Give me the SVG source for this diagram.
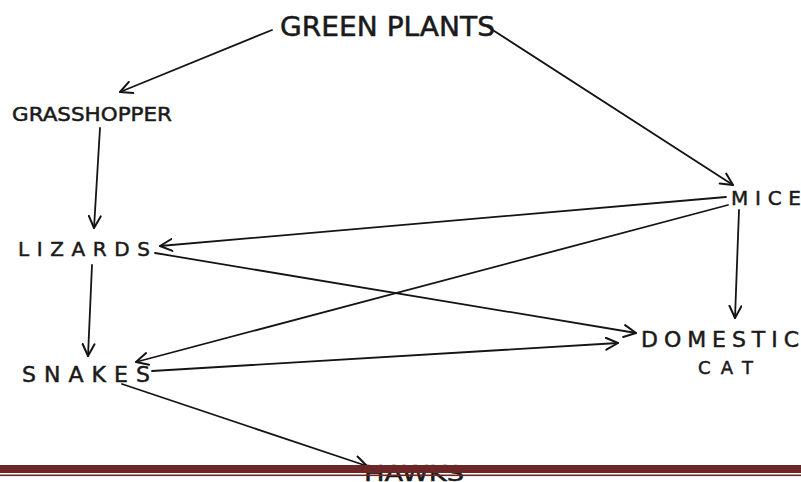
<svg xmlns="http://www.w3.org/2000/svg" width="801" height="482" viewBox="0 0 801 482">
<style>
.t{font-family:"DejaVu Sans","Liberation Sans",sans-serif;fill:#1a1a1a;stroke:#1a1a1a;stroke-width:0.5;}
.e{stroke:#141414;stroke-width:1.8;fill:none;stroke-linecap:round;}
</style>
<defs>
<marker id="ah" viewBox="0 0 14 14" refX="13" refY="7" markerWidth="14" markerHeight="14" markerUnits="userSpaceOnUse" orient="auto">
<path d="M1,1 L13,7 L1,13" fill="none" stroke="#141414" stroke-width="2" stroke-linecap="round" stroke-linejoin="round"/>
</marker>
</defs>
<rect width="801" height="482" fill="#ffffff"/>
<g id="connectors">
<line class="e" x1="272" y1="30" x2="120" y2="92" marker-end="url(#ah)"/>
<line class="e" x1="488" y1="27" x2="733" y2="185" marker-end="url(#ah)"/>
<line class="e" x1="100" y1="128" x2="94" y2="228" marker-end="url(#ah)"/>
<line class="e" x1="726" y1="197" x2="160" y2="246" marker-end="url(#ah)"/>
<line class="e" x1="728" y1="205" x2="136" y2="362" marker-end="url(#ah)"/>
<line class="e" x1="739" y1="210" x2="735" y2="318" marker-end="url(#ah)"/>
<line class="e" x1="155" y1="253" x2="636" y2="333" marker-end="url(#ah)"/>
<line class="e" x1="92" y1="265" x2="88" y2="356" marker-end="url(#ah)"/>
<line class="e" x1="152" y1="371" x2="618" y2="343" marker-end="url(#ah)"/>
<line class="e" x1="122" y1="384" x2="367" y2="466" marker-end="url(#ah)"/>
</g>
<g id="green-plants"><text class="t" x="280" y="36" font-size="26" textLength="215" lengthAdjust="spacingAndGlyphs">GREEN PLANTS</text></g>
<g id="grasshopper"><text class="t" x="12" y="121" font-size="19" textLength="160" lengthAdjust="spacingAndGlyphs">GRASSHOPPER</text></g>
<g id="lizards"><text class="t" x="18" y="256" font-size="20" textLength="132" lengthAdjust="spacing">LIZARDS</text></g>
<g id="snakes"><text class="t" x="22" y="382" font-size="22" textLength="128" lengthAdjust="spacing">SNAKES</text></g>
<g id="mice"><text class="t" x="731" y="205" font-size="20" textLength="70" lengthAdjust="spacing">MICE</text></g>
<g id="domestic-cat"><text class="t" x="641" y="347" font-size="22" textLength="158" lengthAdjust="spacing">DOMESTIC</text><text class="t" x="698" y="374" font-size="18" textLength="55" lengthAdjust="spacing">CAT</text></g>
<g id="hawks"><text class="t" x="364" y="481" font-size="22" textLength="100" lengthAdjust="spacingAndGlyphs">HAWKS</text></g>
<rect x="0" y="465" width="801" height="8" fill="#6b2626"/>
<rect x="0" y="474.5" width="801" height="1.6" fill="#6b2626"/>
</svg>
